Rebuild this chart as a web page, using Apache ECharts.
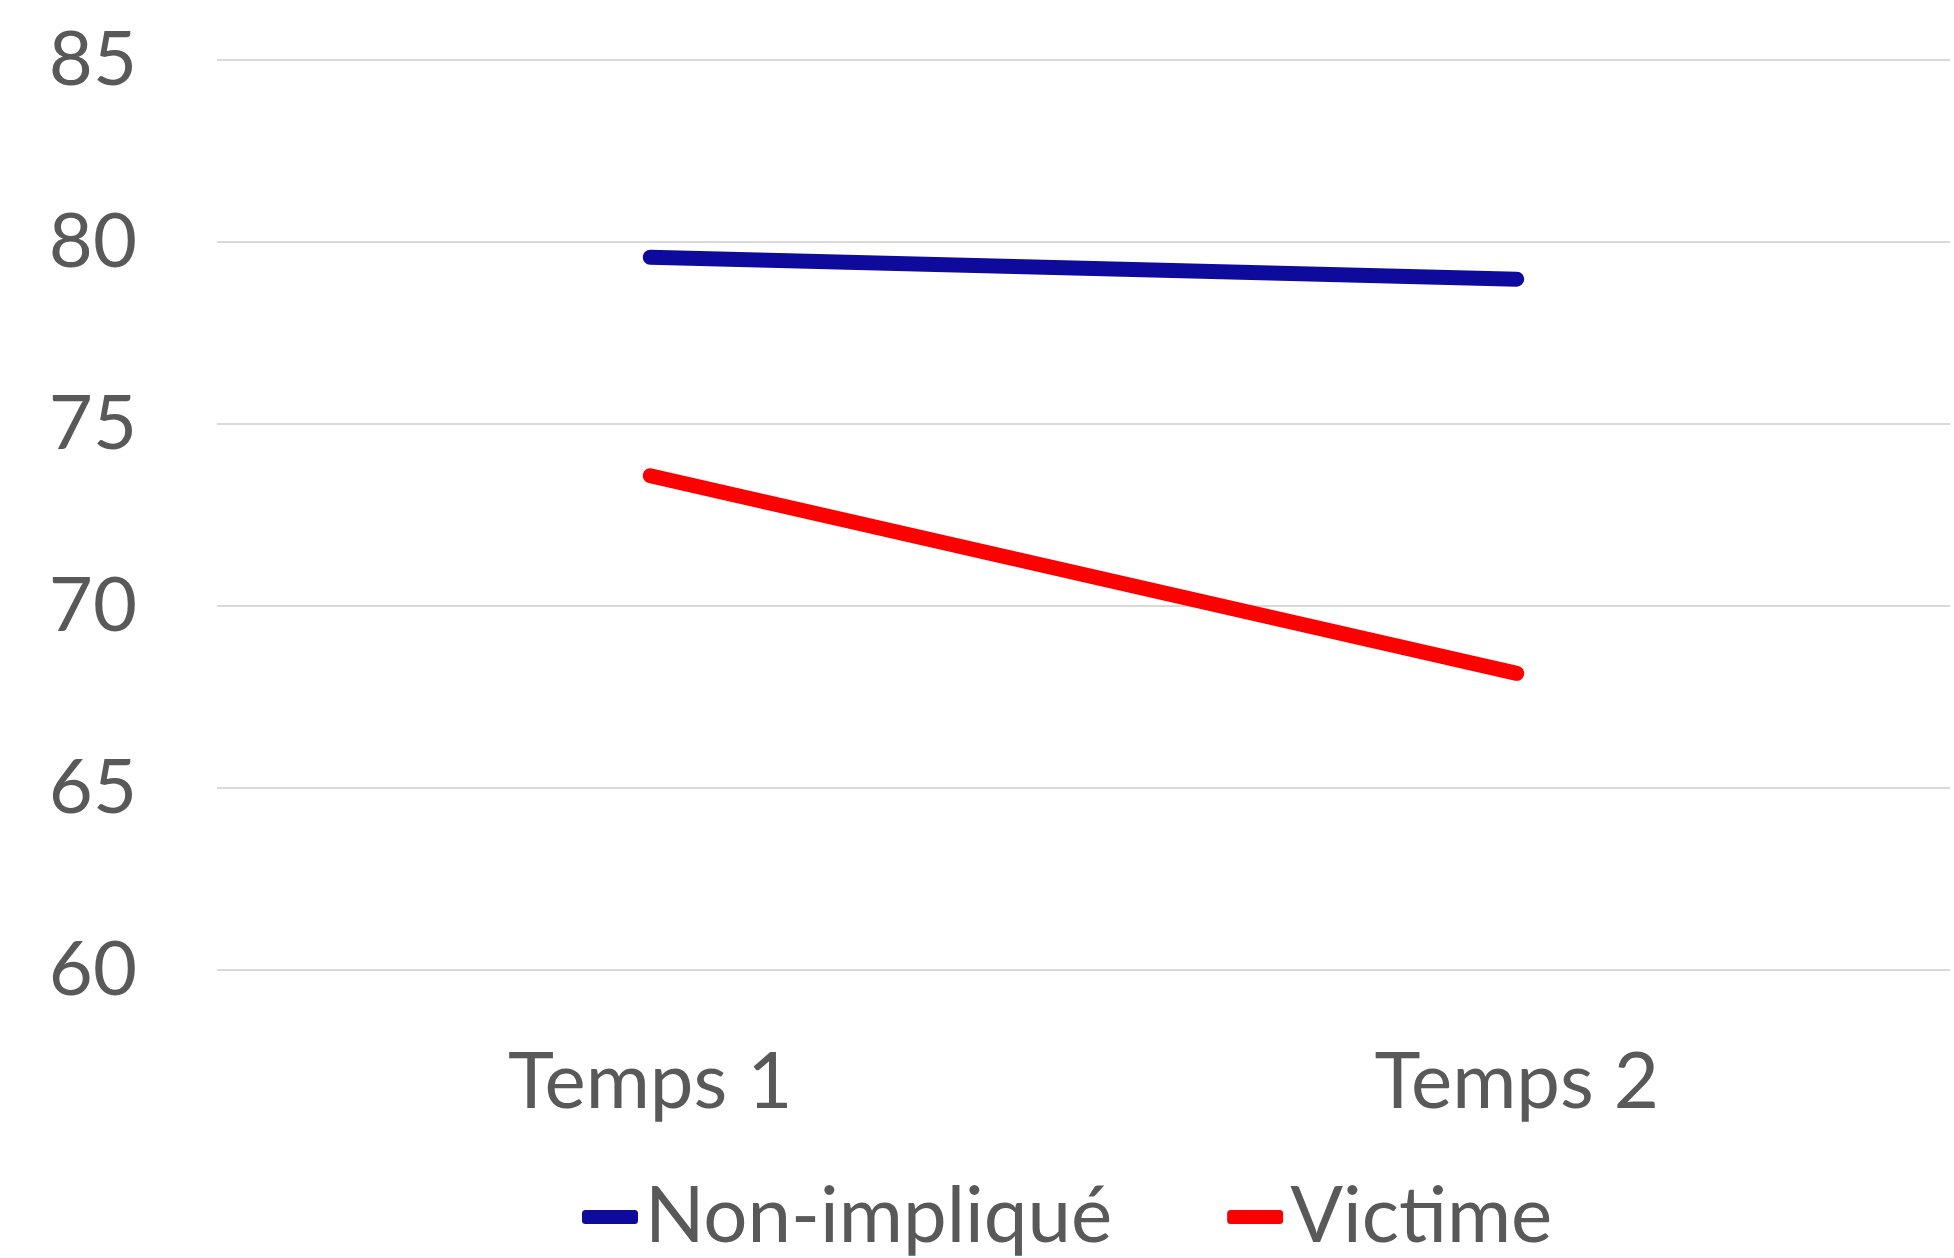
<!DOCTYPE html>
<html>
<head>
<meta charset="utf-8">
<script src="https://cdn.jsdelivr.net/npm/echarts@6/dist/echarts.min.js"></script>
<style>html,body{margin:0;padding:0;background:#fff;}#c{width:1954px;height:1258px;}</style>
</head>
<body>
<div id="c"></div>
<script>
const categories = ['Temps 1', 'Temps 2'];
const nonImplique = [79.58, 78.98];
const victime = [73.58, 68.15];
const yTicks = { min: 60, max: 85, interval: 5 };

const FONT = 'Lato, "Noto Sans", sans-serif';
const TXT = '#595959';
const chart = echarts.init(document.getElementById('c'), null, { renderer: 'canvas' });
chart.setOption({
  animation: false,
  backgroundColor: '#ffffff',
  grid: { left: 217, right: 4, top: 60, bottom: 288, containLabel: false },
  legend: {
    left: 582, top: 1177, padding: 0,
    itemWidth: 56, itemHeight: 14, itemGap: 115,
    icon: 'roundRect',
    textStyle: { fontFamily: FONT, fontSize: 78, lineHeight: 80, color: TXT, padding: [0,0,0,2] },
    data: ['Non-impliqué', 'Victime']
  },
  xAxis: {
    type: 'category', data: categories, boundaryGap: true,
    axisLine: { show: false }, axisTick: { show: false },
    axisLabel: { fontFamily: FONT, fontSize: 78, color: TXT, margin: 74 }
  },
  yAxis: {
    type: 'value', min: yTicks.min, max: yTicks.max, interval: yTicks.interval,
    axisLine: { show: false }, axisTick: { show: false },
    axisLabel: { fontFamily: FONT, fontSize: 76, color: TXT, margin: 80 },
    splitLine: { lineStyle: { color: '#d9d9d9', width: 2 } }
  },
  series: [
    { name: 'Non-impliqué', type: 'line', data: nonImplique, symbol: 'none',
      color: '#0e0a9c', lineStyle: { width: 15, color: '#0e0a9c', cap: 'round' } },
    { name: 'Victime', type: 'line', data: victime, symbol: 'none',
      color: '#ff0000', lineStyle: { width: 15, color: '#ff0000', cap: 'round' } }
  ]
});
</script>
</body>
</html>
